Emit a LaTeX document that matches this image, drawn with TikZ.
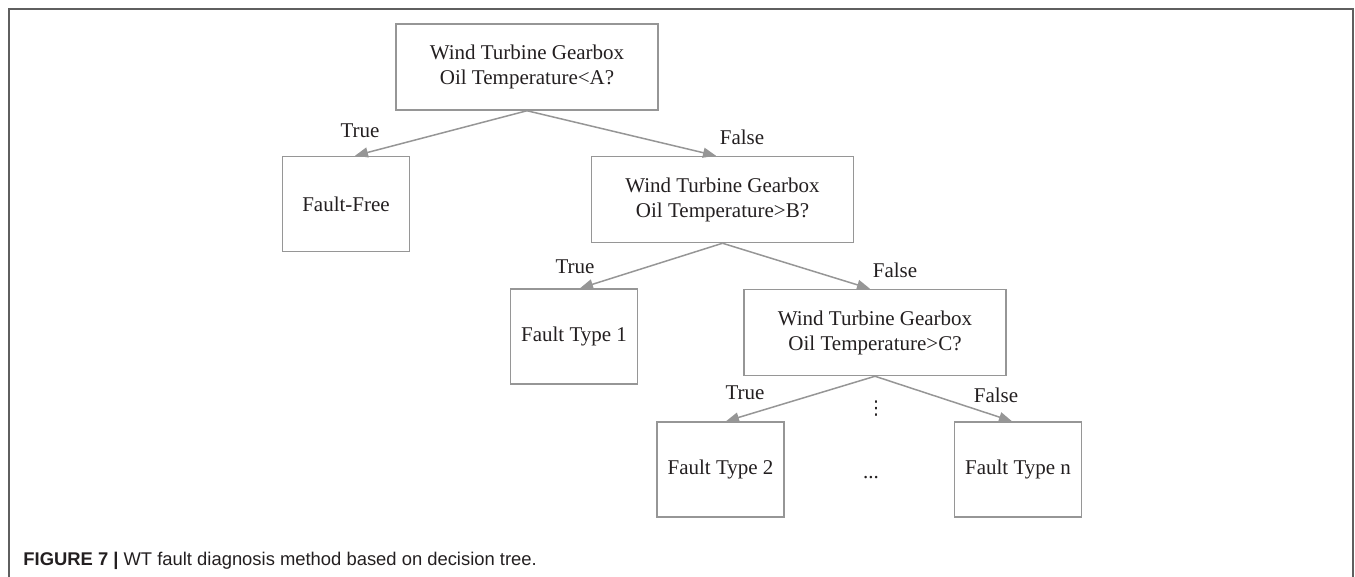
\documentclass[tikz,border=0pt]{standalone}
\usepackage{fontspec}
\setmainfont{Liberation Serif}
\setsansfont{Liberation Sans}
\newfontfamily\symfont{DejaVu Sans}
\usetikzlibrary{arrows.meta}
\definecolor{linegray}{RGB}{150,150,150}
\definecolor{framegray}{RGB}{95,95,95}
\definecolor{inkdark}{RGB}{35,31,32}
\begin{document}
\begin{tikzpicture}[x=0.5pt,y=-0.5pt,
  every node/.style={text=inkdark},
  question/.style={draw=linegray, line width=0.75pt, align=center,
    minimum width=131pt, minimum height=43pt, inner sep=2pt,
    font=\fontsize{10.5}{12.5}\selectfont},
  leaf/.style={draw=linegray, line width=0.75pt, align=center,
    minimum width=63.5pt, minimum height=47.5pt, inner sep=2pt,
    font=\fontsize{10.5}{12.5}\selectfont},
  branch/.style={font=\fontsize{10.5}{12.5}\selectfont, inner sep=0pt},
  edge/.style={draw=linegray, line width=0.75pt,
    -{Triangle[length=6.5pt,width=5pt]}},
  fig/.style={font=\sffamily\fontsize{9.2}{11}\selectfont, inner sep=0pt, anchor=west}]
\useasboundingbox (0,0) rectangle (1355,577);

% outer frame, open at the bottom
\coordinate (fbl) at (9,577);
\coordinate (ftl) at (9,9);
\coordinate (ftr) at (1353,9);
\coordinate (fbr) at (1353,577);
\draw[framegray, line width=0.7pt] (fbl) -- (ftl) -- (ftr) -- (fbr);

% decision nodes
\node[question] (qa) at (527,67) {Wind Turbine Gearbox\\Oil Temperature<A?};
\node[question] (qb) at (722.5,199.5) {Wind Turbine Gearbox\\Oil Temperature>B?};
\node[question] (qc) at (875,332.5) {Wind Turbine Gearbox\\Oil Temperature>C?};

% outcomes
\node[leaf] (ff)  at (346,204)     {Fault-Free};
\node[leaf] (ft1) at (574,336.5)   {Fault Type 1};
\node[leaf] (ft2) at (720.5,469.5) {Fault Type 2};
\node[leaf] (ftn) at (1018,469.5)  {Fault Type n};

% branches
\draw[edge] (qa.south) -- ([xshift=4.5pt]ff.north);
\draw[edge] (qa.south) -- ([xshift=-3.25pt]qb.north);
\draw[edge] (qb.south) -- ([xshift=3pt]ft1.north);
\draw[edge] (qb.south) -- ([xshift=-2.5pt]qc.north);
\draw[edge] (qc.south) -- ([xshift=2.75pt]ft2.north);
\draw[edge] (qc.south) -- ([xshift=-3pt]ftn.north);

% branch labels
\node[branch] (t1) at (360,131) {True};
\node[branch] (f1) at (742,137) {False};
\node[branch] (t2) at (575,267) {True};
\node[branch] (f2) at (895,270) {False};
\node[branch] (t3) at (745,393) {True};
\node[branch] (f3) at (996,395) {False};

% omitted branches
\node[inner sep=0pt, font=\symfont\fontsize{9.5}{11}\selectfont] (vd) at (876,409) {⋮};
\node[branch, anchor=base] (hd) at (871,478) {...};

% caption
\node[fig] (cap) at (23,561) {\textbf{FIGURE 7 |} WT fault diagnosis method based on decision tree.};
\end{tikzpicture}
\end{document}
